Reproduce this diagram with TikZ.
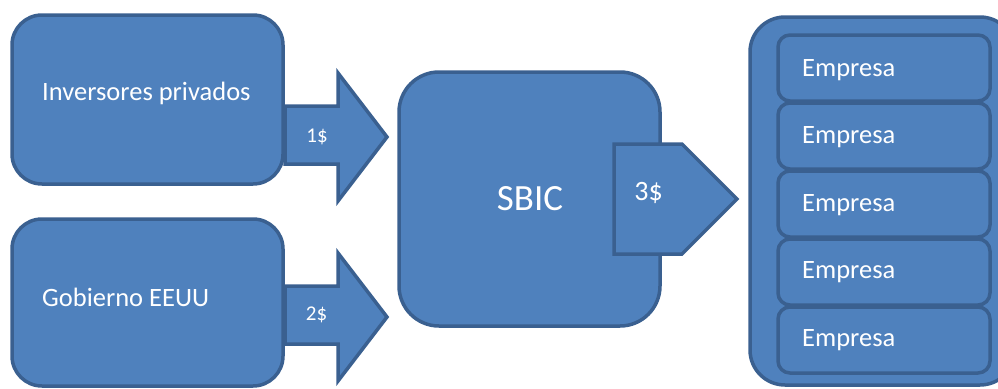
\documentclass[tikz,border=0pt]{standalone}
\usepackage{fontspec}
\setmainfont{Carlito}
\definecolor{fillblue}{HTML}{4F81BD}
\definecolor{lineblue}{HTML}{3A6090}
\begin{document}
\begin{tikzpicture}[x=1pt,y=-1pt,
  blk/.style={fill=fillblue,draw=lineblue,line width=3.5pt,line join=miter},
  txt/.style={text=white,inner sep=0pt,font=\fontsize{26.5}{30}\selectfont},
  small/.style={text=white,inner sep=0pt,font=\fontsize{21}{24}\selectfont}]
\useasboundingbox (0,0) rectangle (998,388);
\clip (0,0) rectangle (998,388);
% left boxes
\draw[blk,rounded corners=30pt] (12,15) rectangle (283,184);
\node[txt,anchor=west] (inv) at (42,93) {Inversores privados};
\draw[blk,rounded corners=30pt] (12,219) rectangle (283,386);
\node[txt,anchor=west] (gob) at (42,297) {Gobierno EEUU};
% arrows
\draw[blk] (285,106) -- (338,106) -- (338,73) -- (387,137) -- (338,201) -- (338,164) -- (285,164) -- cycle;
\node[small] (a1) at (317,137) {1\$};
\draw[blk] (285,286) -- (338,286) -- (338,253) -- (387,317) -- (338,381) -- (338,344) -- (285,344) -- cycle;
\node[small] (a2) at (316.5,315) {2\$};
% SBIC
\draw[blk,rounded corners=40pt] (399,72) rectangle (660,326);
\node[text=white,inner sep=0pt,font=\fontsize{37}{42}\selectfont] (sbic) at (530,199) {SBIC};
\draw[blk] (614,144) -- (682,144) -- (737,199) -- (682,254) -- (614,254) -- cycle;
\node[text=white,inner sep=0pt,font=\fontsize{28}{32}\selectfont] (a3) at (648.5,193) {3\$};
% container
\draw[blk,rounded corners=35pt] (750,17) rectangle (1015,385);
\foreach \t/\c [count=\i] in {35/70,103/137,171/205,239/272,307/340}{
  \draw[blk,rounded corners=12pt] (778,\t) rectangle (990,\t+66);
  \node[txt,anchor=west] (e\i) at (802,\c) {Empresa};
}
\end{tikzpicture}
\end{document}
